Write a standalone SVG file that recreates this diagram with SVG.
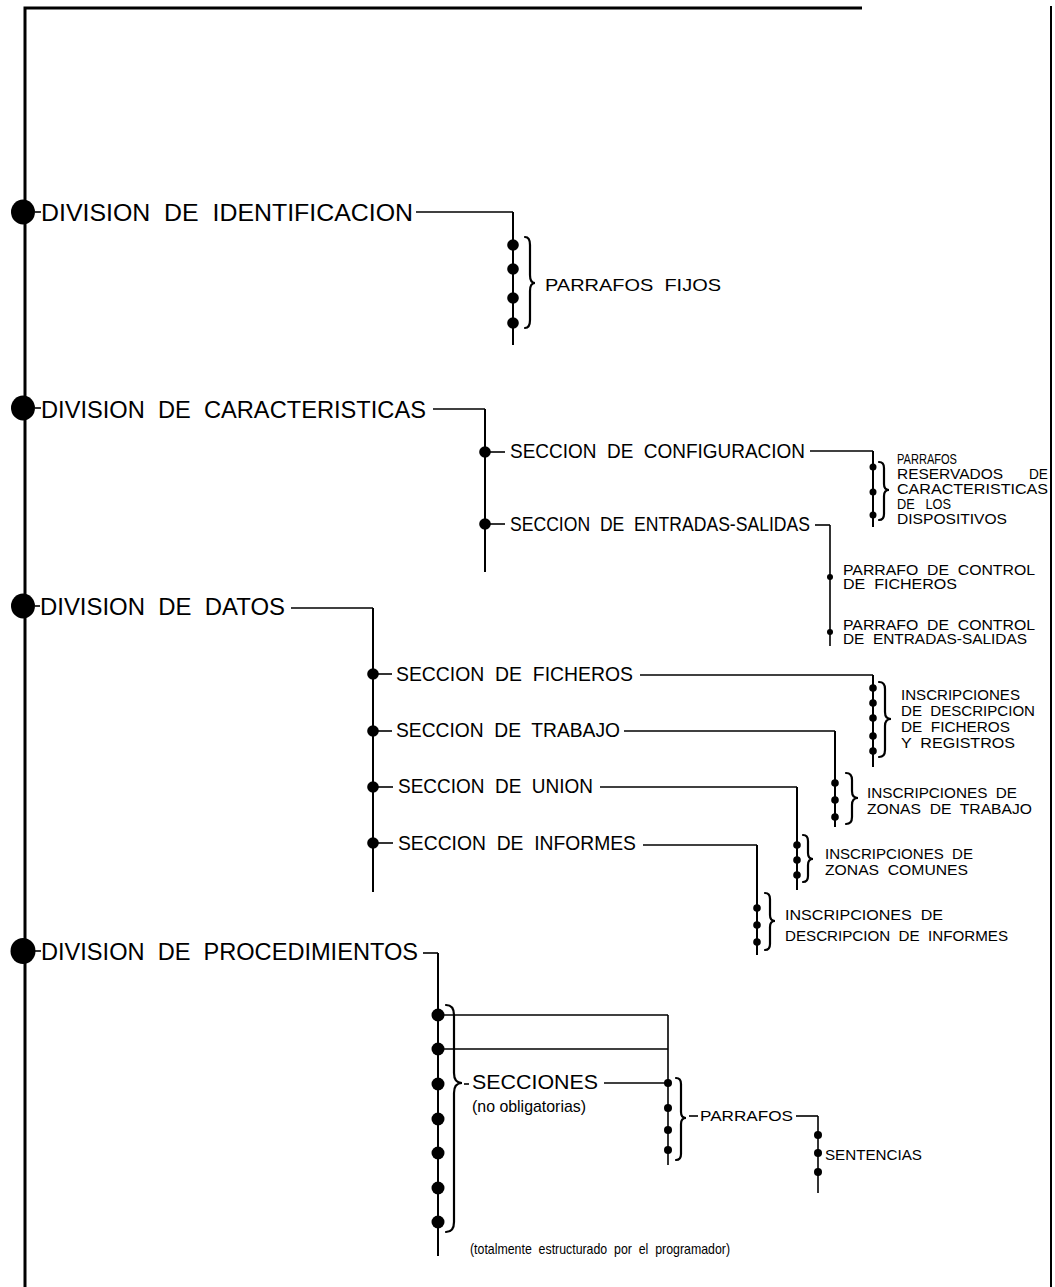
<svg xmlns="http://www.w3.org/2000/svg" width="1055" height="1287" viewBox="0 0 1055 1287">
<style>
text{font-family:"Liberation Sans","Arial",sans-serif;fill:#000;white-space:pre}
.t1{font-size:24.5px}
.t2{font-size:19.5px}
.t3{font-size:15.5px}
.t5{font-size:13.8px}
.t4{font-size:17px}
.t6{font-size:14.5px}
.frame{fill:none;stroke:#000;stroke-width:3}
.c{fill:none;stroke:#000;stroke-width:1.6}
.v{fill:none;stroke:#000;stroke-width:2}
.br{fill:none;stroke:#000;stroke-width:2.2;stroke-linecap:round}
.dot{fill:#000}
</style>
<rect width="1055" height="1287" fill="#fff"/>
<g id="frame">
<path class="frame" d="M25,1287 L25,8 L862,8"/>
<line class="v" x1="1051" y1="6" x2="1051" y2="1287"/>
</g>
<g id="connectors">
<line class="c" x1="35" y1="212" x2="41" y2="212"/>
<path class="c" d="M416,212 H513"/>
<line class="v" x1="513" y1="212" x2="513" y2="345"/>
<line class="c" x1="35" y1="408" x2="41" y2="408"/>
<path class="c" d="M433,409 H485"/>
<line class="v" x1="485" y1="409" x2="485" y2="572"/>
<line class="c" x1="485" y1="452" x2="505" y2="452"/>
<line class="c" x1="485" y1="524" x2="505" y2="524"/>
<path class="c" d="M810,451 H873"/>
<line class="v" x1="873" y1="451" x2="873" y2="527"/>
<path class="c" d="M815,525 H830"/>
<line class="c" x1="830" y1="525" x2="830" y2="646"/>
<line class="c" x1="35" y1="606" x2="40" y2="606"/>
<path class="c" d="M291,608 H373"/>
<line class="v" x1="373" y1="608" x2="373" y2="892"/>
<line class="c" x1="373" y1="674" x2="392" y2="674"/>
<line class="c" x1="373" y1="731" x2="392" y2="731"/>
<line class="c" x1="373" y1="787" x2="393" y2="787"/>
<line class="c" x1="373" y1="843" x2="393" y2="843"/>
<path class="c" d="M640,675 H873"/>
<line class="v" x1="873" y1="675" x2="873" y2="767"/>
<path class="c" d="M624,731 H835"/>
<line class="v" x1="835" y1="731" x2="835" y2="827"/>
<path class="c" d="M600,787 H797"/>
<line class="v" x1="797" y1="787" x2="797" y2="890"/>
<path class="c" d="M643,845 H757"/>
<line class="v" x1="757" y1="845" x2="757" y2="955"/>
<line class="c" x1="35" y1="951" x2="41" y2="951"/>
<path class="c" d="M423,953 H438"/>
<line class="v" x1="438" y1="953" x2="438" y2="1256"/>
<path class="c" d="M438,1015 H668"/>
<path class="c" d="M438,1049 H668"/>
<line class="c" x1="668" y1="1015" x2="668" y2="1165"/>
<line class="c" x1="464" y1="1084" x2="469" y2="1084"/>
<path class="c" d="M604,1083 H668"/>
<line class="c" x1="689" y1="1116" x2="698" y2="1116"/>
<path class="c" d="M796,1116 H818"/>
<line class="c" x1="818" y1="1116" x2="818" y2="1193"/>
</g>
<g id="n-identificacion">
<ellipse class="dot" cx="23" cy="212" rx="12" ry="12.5"/>
<text class="t1" x="41" y="221" textLength="372" lengthAdjust="spacingAndGlyphs">DIVISION  DE  IDENTIFICACION</text>
<circle class="dot" cx="513" cy="245" r="5.8"/>
<circle class="dot" cx="513" cy="269" r="5.8"/>
<circle class="dot" cx="513" cy="298" r="5.8"/>
<circle class="dot" cx="513" cy="323" r="5.8"/>
<path class="br" d="M525,237 q5,0 5,8 v30 q0,8 5,8 q-5,0 -5,8 v29 q0,8 -5,8"/>
<text class="t4" x="545" y="291" textLength="176" lengthAdjust="spacingAndGlyphs">PARRAFOS  FIJOS</text>
</g>
<g id="n-caracteristicas">
<ellipse class="dot" cx="23" cy="408" rx="12" ry="12.5"/>
<text class="t1" x="41" y="418" textLength="385" lengthAdjust="spacingAndGlyphs">DIVISION  DE  CARACTERISTICAS</text>
</g>
<g id="n-configuracion">
<circle class="dot" cx="485" cy="452" r="5.8"/>
<text class="t2" x="510" y="458" textLength="295" lengthAdjust="spacingAndGlyphs">SECCION  DE  CONFIGURACION</text>
<circle class="dot" cx="873" cy="467" r="3.5"/>
<circle class="dot" cx="873" cy="492" r="3.5"/>
<circle class="dot" cx="873" cy="515" r="3.5"/>
<path class="br" d="M879,462 q5,0 5,6 v16 q0,6 5,6 q-5,0 -5,6 v18 q0,6 -5,6"/>
<text class="t5" x="897" y="464" textLength="60" lengthAdjust="spacingAndGlyphs">PARRAFOS</text>
<text class="t5" y="479"><tspan x="897" textLength="106" lengthAdjust="spacingAndGlyphs">RESERVADOS</tspan><tspan x="1029" textLength="19" lengthAdjust="spacingAndGlyphs">DE</tspan></text>
<text class="t5" x="897" y="494" textLength="151" lengthAdjust="spacingAndGlyphs">CARACTERISTICAS</text>
<text class="t5" x="897" y="509" textLength="54" lengthAdjust="spacingAndGlyphs">DE   LOS</text>
<text class="t5" x="897" y="524" textLength="110" lengthAdjust="spacingAndGlyphs">DISPOSITIVOS</text>
</g>
<g id="n-entradas-salidas">
<circle class="dot" cx="485" cy="524" r="5.8"/>
<text class="t2" x="510" y="531" textLength="300" lengthAdjust="spacingAndGlyphs">SECCION  DE  ENTRADAS-SALIDAS</text>
<circle class="dot" cx="830" cy="577" r="3"/>
<circle class="dot" cx="830" cy="632" r="3"/>
<text class="t5" x="843" y="575" textLength="192" lengthAdjust="spacingAndGlyphs">PARRAFO  DE  CONTROL</text>
<text class="t5" x="843" y="589" textLength="114" lengthAdjust="spacingAndGlyphs">DE  FICHEROS</text>
<text class="t5" x="843" y="630" textLength="192" lengthAdjust="spacingAndGlyphs">PARRAFO  DE  CONTROL</text>
<text class="t5" x="843" y="644" textLength="184" lengthAdjust="spacingAndGlyphs">DE  ENTRADAS-SALIDAS</text>
</g>
<g id="n-datos">
<ellipse class="dot" cx="23" cy="606" rx="12" ry="12.5"/>
<text class="t1" x="40" y="615" textLength="245" lengthAdjust="spacingAndGlyphs">DIVISION  DE  DATOS</text>
</g>
<g id="n-ficheros">
<circle class="dot" cx="373" cy="674" r="5.8"/>
<text class="t2" x="396" y="681" textLength="237" lengthAdjust="spacingAndGlyphs">SECCION  DE  FICHEROS</text>
<circle class="dot" cx="873" cy="688" r="3.8"/>
<circle class="dot" cx="873" cy="703" r="3.8"/>
<circle class="dot" cx="873" cy="718" r="3.8"/>
<circle class="dot" cx="873" cy="736" r="3.8"/>
<circle class="dot" cx="873" cy="751" r="3.8"/>
<path class="br" d="M879,682 q6,0 6,7 v23 q0,7 6,7 q-6,0 -6,7 v24 q0,7 -6,7"/>
<text class="t3" x="901" y="700" textLength="119" lengthAdjust="spacingAndGlyphs">INSCRIPCIONES</text>
<text class="t3" x="901" y="716" textLength="134" lengthAdjust="spacingAndGlyphs">DE  DESCRIPCION</text>
<text class="t3" x="901" y="732" textLength="109" lengthAdjust="spacingAndGlyphs">DE  FICHEROS</text>
<text class="t3" x="901" y="748" textLength="114" lengthAdjust="spacingAndGlyphs">Y  REGISTROS</text>
</g>
<g id="n-trabajo">
<circle class="dot" cx="373" cy="731" r="5.8"/>
<text class="t2" x="396" y="737" textLength="224" lengthAdjust="spacingAndGlyphs">SECCION  DE  TRABAJO</text>
<circle class="dot" cx="835" cy="783" r="3.8"/>
<circle class="dot" cx="835" cy="800" r="3.8"/>
<circle class="dot" cx="835" cy="817" r="3.8"/>
<path class="br" d="M846,773 q6,0 6,7 v11 q0,7 6,7 q-6,0 -6,7 v12 q0,7 -6,7"/>
<text class="t3" x="867" y="798" textLength="150" lengthAdjust="spacingAndGlyphs">INSCRIPCIONES  DE</text>
<text class="t3" x="867" y="814" textLength="165" lengthAdjust="spacingAndGlyphs">ZONAS  DE  TRABAJO</text>
</g>
<g id="n-union">
<circle class="dot" cx="373" cy="787" r="5.8"/>
<text class="t2" x="398" y="793" textLength="195" lengthAdjust="spacingAndGlyphs">SECCION  DE  UNION</text>
<circle class="dot" cx="797" cy="845" r="3.8"/>
<circle class="dot" cx="797" cy="860" r="3.8"/>
<circle class="dot" cx="797" cy="875" r="3.8"/>
<path class="br" d="M803,835 q5,0 5,6 v12 q0,6 5,6 q-5,0 -5,6 v11 q0,6 -5,6"/>
<text class="t3" x="825" y="859" textLength="148" lengthAdjust="spacingAndGlyphs">INSCRIPCIONES  DE</text>
<text class="t3" x="825" y="875" textLength="143" lengthAdjust="spacingAndGlyphs">ZONAS  COMUNES</text>
</g>
<g id="n-informes">
<circle class="dot" cx="373" cy="843" r="5.8"/>
<text class="t2" x="398" y="850" textLength="238" lengthAdjust="spacingAndGlyphs">SECCION  DE  INFORMES</text>
<circle class="dot" cx="757" cy="908" r="3.8"/>
<circle class="dot" cx="757" cy="925" r="3.8"/>
<circle class="dot" cx="757" cy="942" r="3.8"/>
<path class="br" d="M765,893 q5,0 5,6 v16 q0,6 5,6 q-5,0 -5,6 v17 q0,6 -5,6"/>
<text class="t3" x="785" y="920" textLength="158" lengthAdjust="spacingAndGlyphs">INSCRIPCIONES  DE</text>
<text class="t3" x="785" y="941" textLength="223" lengthAdjust="spacingAndGlyphs">DESCRIPCION  DE  INFORMES</text>
</g>
<g id="n-procedimientos">
<ellipse class="dot" cx="23" cy="951" rx="12.5" ry="13"/>
<text class="t1" x="41" y="960" textLength="377" lengthAdjust="spacingAndGlyphs">DIVISION  DE  PROCEDIMIENTOS</text>
<circle class="dot" cx="438" cy="1015" r="6.5"/>
<circle class="dot" cx="438" cy="1049" r="6.5"/>
<circle class="dot" cx="438" cy="1084" r="6.5"/>
<circle class="dot" cx="438" cy="1119" r="6.5"/>
<circle class="dot" cx="438" cy="1153" r="6.5"/>
<circle class="dot" cx="438" cy="1188" r="6.5"/>
<circle class="dot" cx="438" cy="1222" r="6.5"/>
<path class="br" d="M446,1005 q8,0 8,10 v58 q0,10 8,10 q-8,0 -8,10 v129 q0,10 -8,10"/>
<text class="t6" x="470" y="1254" textLength="260" lengthAdjust="spacingAndGlyphs">(totalmente  estructurado  por  el  programador)</text>
</g>
<g id="n-secciones">
<text class="t2" x="472" y="1089" textLength="126" lengthAdjust="spacingAndGlyphs">SECCIONES</text>
<text class="t4" x="472" y="1112" textLength="114" lengthAdjust="spacingAndGlyphs">(no obligatorias)</text>
<circle class="dot" cx="668" cy="1083" r="4"/>
<circle class="dot" cx="668" cy="1108" r="4"/>
<circle class="dot" cx="668" cy="1130" r="4"/>
<circle class="dot" cx="668" cy="1150" r="4"/>
<path class="br" d="M676,1078 q5,0 5,6 v28 q0,6 5,6 q-5,0 -5,6 v30 q0,6 -5,6"/>
</g>
<g id="n-parrafos">
<text class="t3" x="700" y="1121" textLength="93" lengthAdjust="spacingAndGlyphs">PARRAFOS</text>
<circle class="dot" cx="818" cy="1135" r="4"/>
<circle class="dot" cx="818" cy="1153" r="4"/>
<circle class="dot" cx="818" cy="1172" r="4"/>
</g>
<g id="n-sentencias">
<text class="t3" x="825" y="1160" textLength="97" lengthAdjust="spacingAndGlyphs">SENTENCIAS</text>
</g>
</svg>
